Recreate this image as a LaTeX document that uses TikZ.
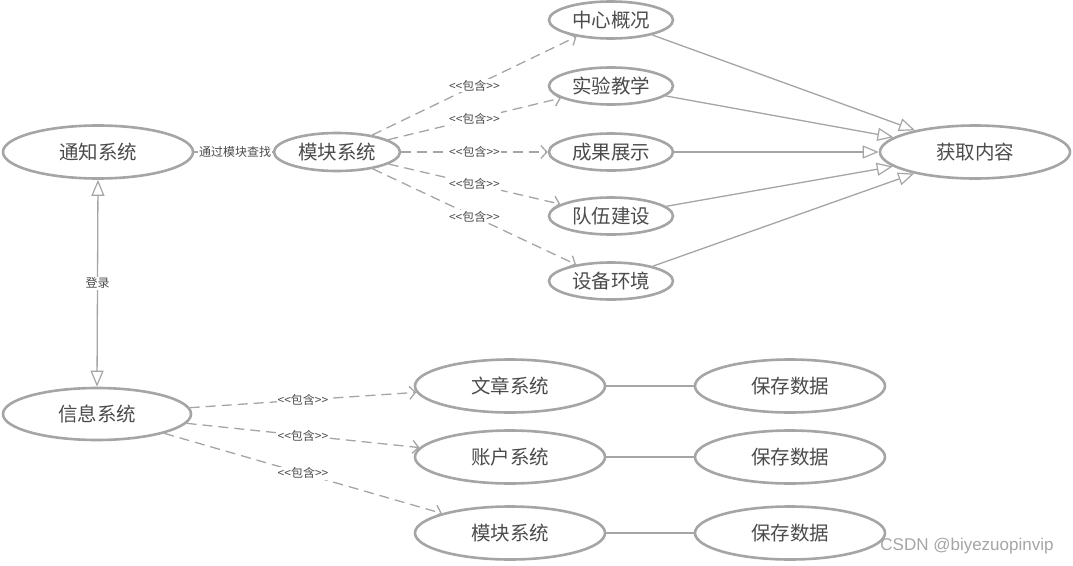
\documentclass[tikz,border=0pt]{standalone}
\usepackage{fontspec}
\setmainfont[Ligatures=NoCommon]{Noto Sans CJK SC}
\newfontfamily\wmfont{Liberation Sans}
\usetikzlibrary{shapes.geometric,arrows.meta}
\definecolor{edgegray}{RGB}{165,165,165}
\definecolor{txtgray}{RGB}{75,75,75}
\newcommand\inclabel{<\kern0pt<包含>\kern0pt>}
\tikzset{
  uc/.style={ellipse, draw=edgegray, line width=2.6pt, inner sep=0pt, text=txtgray,
    font=\fontsize{19.5}{22}\selectfont},
  big/.style={uc, minimum width=190pt, minimum height=53pt},
  small/.style={uc, minimum width=124pt, minimum height=37pt},
  conn/.style={draw=edgegray, line width=1.3pt},
  inc/.style={conn, dash pattern=on 10pt off 6pt, -{Straight Barb[length=6pt,width=13pt,line width=1.3pt]}},
  opentri/.tip={Triangle[open,length=16pt,width=13pt,line width=1.2pt]},
  gen/.style={conn, -opentri},
  lab/.style={fill=white, inner sep=1pt, text=txtgray, font=\fontsize{12}{14}\selectfont},
}
\begin{document}
\begin{tikzpicture}[x=1pt,y=-1pt]
\useasboundingbox (0,0) rectangle (1073,565);
\node[big] (tz) at (98,152) {通知系统};
\node[small, minimum width=126pt, minimum height=38pt] (mk) at (337,152) {模块系统};
\node[small] (a1) at (611,20) {中心概况};
\node[small] (a2) at (611,86) {实验教学};
\node[small] (a3) at (611,152) {成果展示};
\node[small] (a4) at (611,216) {队伍建设};
\node[small] (a5) at (611,281) {设备环境};
\node[big] (hq) at (975,152) {获取内容};
\node[big, minimum width=188pt, minimum height=52pt] (xx) at (97,414) {信息系统};
\node[big] (b1) at (510,386) {文章系统};
\node[big] (b2) at (510,457) {账户系统};
\node[big] (b3) at (510,533) {模块系统};
\node[big] (c1) at (790,386) {保存数据};
\node[big] (c2) at (790,457) {保存数据};
\node[big] (c3) at (790,533) {保存数据};

\draw[conn] (tz) -- node[lab, pos=0.52] {通过模块查找} (mk);
\draw[conn, opentri-opentri] (tz.south) -- node[lab] {登录} (xx.north);

\foreach \t in {a1,a2,a3,a4,a5}{
  \draw[inc] (mk) -- node[lab] {\inclabel} (\t);
  \draw[gen] (\t) -- (hq);
}
\draw[inc] (xx) -- node[lab] {\inclabel} (b1);
\draw[inc] (xx) -- node[lab] {\inclabel} (b2);
\draw[inc] (xx) -- node[lab] {\inclabel} (b3);
\draw[conn] (b1) -- (c1);
\draw[conn] (b2) -- (c2);
\draw[conn] (b3) -- (c3);

\node[text=edgegray, font=\wmfont\fontsize{17}{19}\selectfont] (wm) at (967,546) {CSDN @biyezuopinvip};
\end{tikzpicture}
\end{document}
